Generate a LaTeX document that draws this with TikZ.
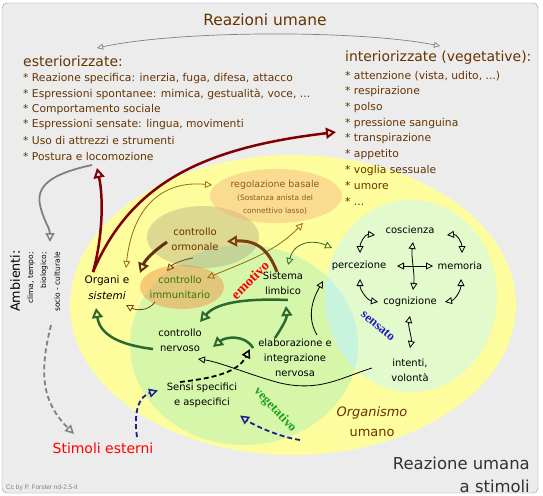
\documentclass[tikz,border=0pt]{standalone}
\usepackage{fontspec}
\setmainfont{DejaVu Sans}
\newfontfamily\timesfont{Liberation Serif}
\newfontfamily\arialfont{Liberation Sans}
\usetikzlibrary{arrows.meta,calc}

\definecolor{bg}{RGB}{236,236,236}
\definecolor{frame}{RGB}{150,150,150}
\definecolor{yel}{RGB}{253,253,158}
\definecolor{grn}{RGB}{214,246,170}
\definecolor{pale}{RGB}{226,250,204}
\definecolor{lens}{RGB}{200,244,222}
\definecolor{brn}{RGB}{102,51,0}
\definecolor{lbrn}{RGB}{140,90,40}
\definecolor{maroon}{RGB}{128,0,0}
\definecolor{dbrn}{RGB}{95,50,15}
\definecolor{mbrn}{RGB}{120,62,20}
\definecolor{gold}{RGB}{150,105,20}
\definecolor{dgrn}{RGB}{45,105,45}
\definecolor{navy}{RGB}{30,30,140}
\definecolor{ormo}{RGB}{165,150,120}
\definecolor{immu}{RGB}{240,140,70}
\definecolor{rego}{RGB}{245,180,125}
\definecolor{txtgrn}{RGB}{50,125,0}

\newcommand{\fsz}[2]{\fontsize{#1}{#2}\selectfont}

\tikzset{
  txt/.style={inner sep=0pt, align=center, font=\fsz{10}{15}},
  item/.style={anchor=west, inner sep=0pt, text=brn, font=\fsz{10.8}{13}},
  head/.style={anchor=west, inner sep=0pt, text=brn, font=\fsz{14}{16}},
  word/.style={inner sep=0pt, font=\timesfont\bfseries\fsz{13}{13}},
  side/.style={rotate=90, anchor=east, inner sep=0pt, font=\fsz{7.5}{8}},
  ln/.style={line width=0.8bp},
  fat/.style={line width=2.5bp},
  hd/.style={-{Triangle[open,length=7bp,width=7bp,line width=0.8bp]}},
  hdd/.style={{Triangle[open,length=7bp,width=7bp,line width=0.8bp]}-{Triangle[open,length=7bp,width=7bp,line width=0.8bp]}},
  bighd/.style={-{Triangle[open,length=10bp,width=11bp,line width=2bp]}},
  dashln/.style={dash pattern=on 5bp off 3bp}
}

\begin{document}
\begin{tikzpicture}[x=1bp,y=-1bp]
\useasboundingbox (0,0) rectangle (543,496);
\fill[white] (0,0) rectangle (543,496);
\draw[frame, fill=bg, rounded corners=5bp] (2,3) rectangle (538,493);

% zones
\fill[yel] (293,305) ellipse [x radius=223, y radius=150];
\fill[grn] (244,345) ellipse [x radius=114, y radius=100];
\fill[pale] (411,296) ellipse [x radius=86, y radius=96];
\begin{scope}
  \clip (244,345) ellipse [x radius=114, y radius=100];
  \fill[lens] (411,296) ellipse [x radius=86, y radius=96];
\end{scope}
\fill[ormo, opacity=.35] (203,237) ellipse [x radius=56, y radius=31];
\fill[immu, opacity=.45] (182,287) ellipse [x radius=42, y radius=22];
\fill[rego, opacity=.45] (276,196) ellipse [x radius=66, y radius=27];

% top texts
\node[inner sep=0pt, text=brn, font=\fsz{15.5}{16}] (titolo) at (265,20) {Reazioni umane};
\node[head] (ester) at (23,61) {esteriorizzate:};
\node[item] (e1) at (23,78.5) {* Reazione specifica: inerzia, fuga, difesa, attacco};
\node[item] (e2) at (23,94) {* Espressioni spontanee: mimica, gestualità, voce, ...};
\node[item] (e3) at (23,109.5) {* Comportamento sociale};
\node[item] (e4) at (23,125) {* Espressioni sensate: lingua, movimenti};
\node[item] (e5) at (23,140.5) {* Uso di attrezzi e strumenti};
\node[item] (e6) at (23,156) {* Postura e locomozione};
\node[head] (inter) at (345,58) {interiorizzate (vegetative):};
\node[item] (i1) at (345,76) {* attenzione (vista, udito, ...)};
\node[item] (i2) at (345,91.7) {* respirazione};
\node[item] (i3) at (345,107.4) {* polso};
\node[item] (i4) at (345,123.1) {* pressione sanguina};
\node[item] (i5) at (345,138.8) {* transpirazione};
\node[item] (i6) at (345,154.5) {* appetito};
\node[item] (i7) at (345,170.2) {* voglia sessuale};
\node[item] (i8) at (345,185.9) {* umore};
\node[item] (i9) at (345,201.6) {* ...};

% left side
\node[rotate=90, anchor=east, inner sep=0pt, font=\fsz{12.8}{13}] (amb) at (15,250) {Ambienti:};
\node[side] (clima) at (31,252) {clima, tempo;};
\node[side] (bio) at (44,252) {biologico;};
\node[side] (socio) at (57,252) {socio - culturale};
\node[inner sep=0pt, text=red, font=\fsz{14}{14}] (stimoli) at (103,448) {Stimoli esterni};

% organism
\node[txt, font=\fsz{10.5}{16}] (organi) at (107,288) {Organi e\\\textit{sistemi}};
\node[txt, text=brn] (ormonale) at (195,239.5) {controllo\\ormonale};
\node[txt, text=txtgrn] (immunitario) at (180,287.5) {controllo\\immunitario};
\node[txt, text=lbrn, font=\fsz{9.5}{12}] (rego) at (275,185) {regolazione basale};
\node[txt, text=lbrn, font=\fsz{7.5}{13}] (regosub) at (275,204.5) {(Sostanza anista del\\connettivo lasso)};
\node[txt] (limbico) at (283,283.5) {Sistema\\limbico};
\node[txt] (nervoso) at (180,340.5) {controllo\\nervoso};
\node[txt] (elab) at (295,358) {elaborazione e\\integrazione\\nervosa};
\node[txt] (sensi) at (202,395.5) {Sensi specifici\\e aspecifici};
\node[txt] (coscienza) at (410,230) {coscienza};
\node[txt] (percezione) at (359,266) {percezione};
\node[txt] (memoria) at (460,266) {memoria};
\node[txt] (cognizione) at (410,302) {cognizione};
\node[txt] (intenti) at (410,370.5) {intenti,\\volontà};
\node[txt, text=brn, font=\fsz{13}{20}] (organismo) at (372,422) {\textit{Organismo}\\umano};
\node[word, text=red, font=\timesfont\bfseries\fsz{14}{14}, rotate=45] (emotivo) at (250,280) {emotivo};
\node[word, text={rgb,255:red,30;green,30;blue,200}, rotate=-40] (sensato) at (378,326) {sensato};
\node[word, text={rgb,255:red,30;green,160;blue,30}, rotate=-47] (vegetativo) at (275,410) {vegetativo};

% bottom texts
\node[inner sep=0pt, align=right, anchor=east, text={rgb,255:red,50;green,50;blue,50}, font=\fsz{16.5}{23}] (reazione) at (530,474.5) {Reazione umana\\a stimoli};
\node[inner sep=0pt, anchor=west, text=gray, font=\arialfont\fsz{6.5}{7}] (cc) at (6,488) {Cc by P. Forster nd-2.5-it};

% free ends
\coordinate (hl) at ($(ester.west)+(74,-13)$);
\coordinate (hr) at ($(inter.west)+(95,-12)$);
\coordinate (stim2) at (300,440);

% connectors
\draw[gray, line width=0.7bp, {Triangle[open,length=6bp,width=6bp]}-{Triangle[open,length=6bp,width=6bp]}]
  (hl) .. controls (180,30) and (360,30) .. (hr);
\draw[gray, line width=1.8bp, -{Triangle[open,length=9bp,width=9bp,line width=1.5bp]}]
  ($(e6.west)+(69,9)$) .. controls (60,172) and (35,182) .. (40,205) .. controls (44,222) and (50,228) .. ($(bio.east)+(6,-10)$);
\draw[gray, line width=1.8bp, dashln, -{Triangle[open,length=9bp,width=9bp,line width=1.5bp]}]
  ($(socio.west)+(-6,13)$) .. controls (40,370) and (40,400) .. ($(stimoli)+(-29,-14)$);
\draw[navy, line width=1.8bp, dashln, -{Triangle[open,length=9bp,width=9bp,line width=1.5bp]}]
  ($(stimoli)+(34,-11)$) .. controls (133,410) and (140,396) .. ($(sensi)+(-44,-5)$);
\draw[navy, line width=1.8bp, dashln, -{Triangle[open,length=9bp,width=9bp,line width=1.5bp]}]
  (stim2) .. controls (280,437) and (255,426) .. ($(sensi)+(38,20)$);
\draw[black, line width=1.8bp, dashln, -{Triangle[open,length=9bp,width=9bp,line width=1.5bp]}]
  ($(sensi)+(-22,-13.5)$) .. controls (215,378) and (238,372) .. ($(elab)+(-45,-9)$);

% maroon
\draw[maroon, fat, bighd] ($(organi)+(-14,-16)$) .. controls (102,240) and (104,200) .. ($(e6.west)+(74,12)$);
\draw[maroon, fat, bighd] ($(organi)+(-14,-16)$) .. controls (130,185) and (200,148) .. ($(i4.west)+(-9,9)$);

% browns
\draw[gold, ln, hdd] ($(organi)+(19,-20)$) .. controls (132,210) and (160,180) .. ($(rego)+(-63,0)$);
\draw[gold, ln, hdd] ($(immunitario)+(27,-9.5)$) .. controls (245,262) and (275,252) .. ($(rego)+(28,38)$);
\draw[dbrn, line width=3bp, bighd] ($(ormonale)+(-28,2.5)$) .. controls (155,250) and (145,260) .. ($(organi)+(33,-15)$);
\draw[mbrn, ln, hd] ($(ormonale)+(-2,18.5)$) .. controls (180,260) and (172,265) .. ($(immunitario)+(-13,-16.5)$);
\draw[mbrn, ln, hd] ($(immunitario)+(-25,14.5)$) .. controls (148,312) and (135,310) .. ($(organi)+(19,17)$);
\draw[mbrn, line width=3bp, bighd] ($(limbico)+(-6,-11.5)$) .. controls (268,248) and (255,240) .. ($(ormonale)+(32,2)$);

% greens
\draw[dgrn, ln, hdd] ($(limbico)+(5,-18.5)$) .. controls (295,240) and (315,240) .. ($(percezione)+(-27,-18)$);
\draw[dgrn, fat, bighd] ($(limbico)+(5,16.5)$) .. controls (240,298) and (215,304) .. ($(nervoso)+(20,-18.5)$);
\draw[dgrn, fat, bighd] ($(elab)+(-20,-20)$) .. controls (283,326) and (287,318) .. ($(limbico)+(3,22.5)$);
\draw[dgrn, fat, bighd] ($(elab)+(-42,-10)$) .. controls (245,334) and (225,337) .. ($(nervoso)+(33,6.5)$);
\draw[dgrn, fat, bighd] ($(nervoso)+(-27,8.5)$) .. controls (120,345) and (100,335) .. ($(organi)+(-11,20)$);

% black thin
\draw[ln, hd] ($(intenti)+(-38,-2.5)$) .. controls (340,378) and (320,392) .. (280,383) .. controls (250,375) and (220,362) .. ($(nervoso)+(18,18.5)$);
\draw[ln, hd] ($(elab)+(22,-23)$) .. controls (305,315) and (315,295) .. ($(percezione)+(-36,15)$);

% circle
\draw[ln, hdd] ($(coscienza)+(-35,5)$) .. controls (365,234) and (360,243) .. ($(percezione)+(1,-13)$);
\draw[ln, hdd] ($(coscienza)+(37,5)$) .. controls (457,234) and (462,243) .. ($(memoria)+(2,-13)$);
\draw[ln, hdd] ($(percezione)+(1,13)$) .. controls (360,290) and (367,300) .. ($(cognizione)+(-32,0)$);
\draw[ln, hdd] ($(memoria)+(1,13)$) .. controls (461,290) and (455,300) .. ($(cognizione)+(35,0)$);
\draw[ln, hdd] ($(coscienza)+(3,12)$) .. controls (411,258) and (415,274) .. ($(cognizione)+(3,-12)$);
\draw[ln, hdd] ($(percezione)+(38,0)$) -- ($(memoria)+(-27,0)$);
\draw[ln, hdd] ($(cognizione)+(0,14)$) .. controls (408,326) and (412,338) .. ($(intenti)+(0,-22.5)$);
\end{tikzpicture}
\end{document}
